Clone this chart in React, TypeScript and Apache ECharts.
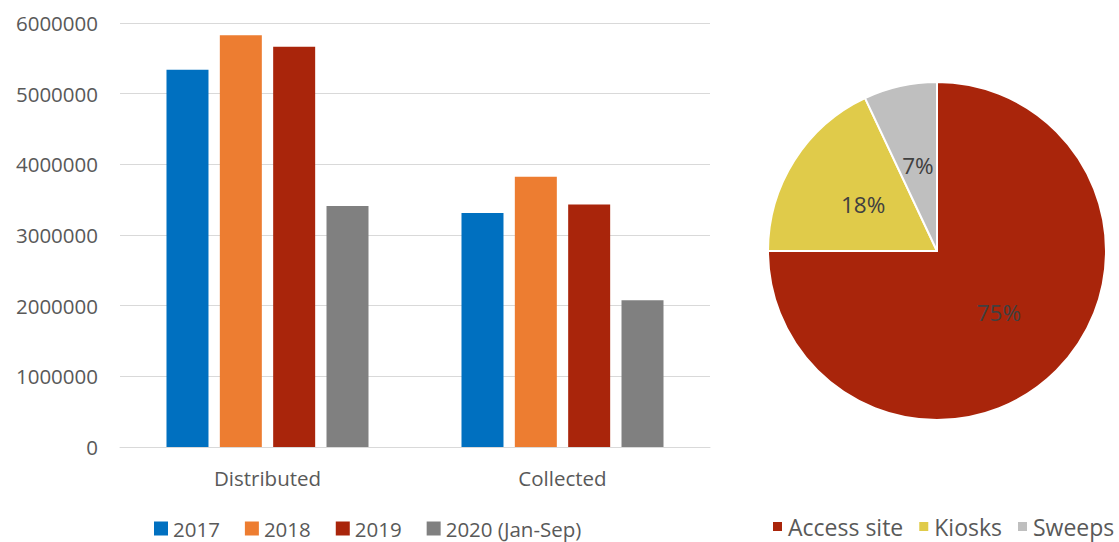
import React, { useEffect, useRef } from "react";
import * as echarts from "echarts";

const categories = ["Distributed", "Collected"];
const years = ["2017", "2018", "2019", "2020 (Jan-Sep)"];
const values2017 = [5340000, 3310000];
const values2018 = [5825000, 3825000];
const values2019 = [5665000, 3430000];
const values2020 = [3410000, 2075000];
const barColors = ["#0070c0", "#ed7d31", "#a9250b", "#808080"];

const pieNames = ["Access site", "Kiosks", "Sweeps"];
const pieValues = [75, 18, 7];
const pieColors = ["#a9250b", "#e0cb4a", "#bfbfbf"];

const FONT = "'Open Sans', 'Liberation Sans', sans-serif";

export default function App() {
  const ref = useRef<HTMLDivElement>(null);
  useEffect(() => {
    if (!ref.current) return;
    const chart = echarts.init(ref.current, null, { renderer: "svg" });
    const seriesVals = [values2017, values2018, values2019, values2020];
    chart.setOption({
      animation: false,
      backgroundColor: "#ffffff",
      textStyle: { fontFamily: FONT },
      legend: [
        {
          data: years,
          left: 154,
          top: 518,
          padding: 0,
          itemWidth: 14,
          itemHeight: 14,
          itemGap: 25,
          icon: "rect",
          textStyle: { fontSize: 20.5, color: "#595959", fontFamily: FONT },
        },
        {
          data: pieNames,
          left: 771,
          top: 515,
          padding: 0,
          itemWidth: 11,
          itemHeight: 11,
          itemGap: 14,
          icon: "rect",
          textStyle: { fontSize: 23, color: "#595959", fontFamily: FONT },
        },
      ],
      grid: { left: 120, top: 23, width: 590, height: 424, containLabel: false },
      xAxis: {
        type: "category",
        data: categories,
        axisLine: { lineStyle: { color: "#d9d9d9", width: 1 } },
        axisTick: { show: false },
        axisLabel: { fontSize: 20.5, color: "#595959", margin: 20, fontFamily: FONT },
      },
      yAxis: {
        type: "value",
        min: 0,
        max: 6000000,
        interval: 1000000,
        axisLine: { show: false },
        axisTick: { show: false },
        axisLabel: {
          fontSize: 20.5,
          color: "#595959",
          margin: 22,
          fontFamily: FONT,
          formatter: (v: number) => String(v),
        },
        splitLine: { lineStyle: { color: "#d9d9d9", width: 1 } },
      },
      series: [
        ...years.map((y, i) => ({
          name: y,
          type: "bar",
          data: seriesVals[i],
          itemStyle: { color: barColors[i] },
          barWidth: 42,
          barGap: "27%",
        })),
        {
          name: "pie",
          type: "pie",
          center: [937, 251],
          radius: [0, 169],
          startAngle: 90,
          clockwise: true,
          data: pieNames.map((n, i) => ({ name: n, value: pieValues[i], itemStyle: { color: pieColors[i] } })),
          itemStyle: { borderColor: "#ffffff", borderWidth: 2 },
          label: {
            position: "inside",
            formatter: "{c}%",
            fontSize: 22.5,
            color: "#404040",
            fontFamily: FONT,
          },
          labelLine: { show: false },
        },
      ],
    });
    return () => chart.dispose();
  }, []);
  return (
    <div
      ref={ref}
      style={{ position: "fixed", left: 0, top: 0, width: 1119, height: 542 }}
    />
  );
}
